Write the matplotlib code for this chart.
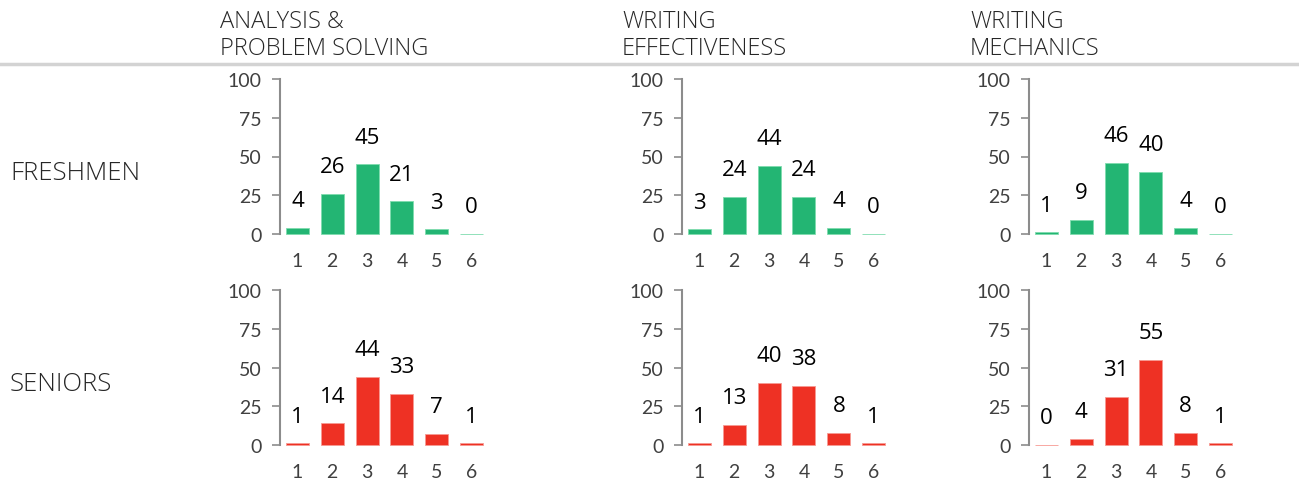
import matplotlib.pyplot as plt

# Data
scores = [1, 2, 3, 4, 5, 6]
skills = ['ANALYSIS &\nPROBLEM SOLVING', 'WRITING\nEFFECTIVENESS', 'WRITING\nMECHANICS']
groups = ['FRESHMEN', 'SENIORS']

freshmen_analysis = [4, 26, 45, 21, 3, 0]
freshmen_effectiveness = [3, 24, 44, 24, 4, 0]
freshmen_mechanics = [1, 9, 46, 40, 4, 0]

seniors_analysis = [1, 14, 44, 33, 7, 1]
seniors_effectiveness = [1, 13, 40, 38, 8, 1]
seniors_mechanics = [0, 4, 31, 55, 8, 1]

values = [
    [freshmen_analysis, freshmen_effectiveness, freshmen_mechanics],
    [seniors_analysis, seniors_effectiveness, seniors_mechanics],
]

bar_colors = ['#23b573', '#ee3124']
edge_colors = ['#7fdcae', '#f79a93']

W, H = 1299, 489
fig = plt.figure(figsize=(W / 100, H / 100), dpi=100)

label_font = dict(family='Open Sans', fontweight='light')

# axes positions in pixels
col_x0 = [280, 682, 1029]
ax_w = 209
row_zero = [235, 446]
ax_h = 155

for r, group in enumerate(groups):
    for c, skill in enumerate(skills):
        left = col_x0[c] / W
        bottom = (H - row_zero[r]) / H
        ax = fig.add_axes([left, bottom, ax_w / W, ax_h / H])
        vals = values[r][c]
        bars = ax.bar(scores, vals, width=0.66, color=bar_colors[r],
                      edgecolor=edge_colors[r], linewidth=0.6)
        for b in bars:
            b.set_clip_on(False)
        for x, v in zip(scores, vals):
            ax.annotate(str(v), (x, v), xytext=(0, 12), textcoords='offset points',
                        ha='center', va='bottom', fontsize=16,
                        family='Open Sans', color='black', annotation_clip=False)
        ax.set_xlim(0.5, 6.5)
        ax.set_ylim(0, 100)
        ax.set_yticks([0, 25, 50, 75, 100])
        ax.set_xticks(scores)
        for s in ['top', 'right', 'bottom']:
            ax.spines[s].set_visible(False)
        ax.spines['left'].set_color('#8c8c8c')
        ax.spines['left'].set_linewidth(1.5)
        ax.tick_params(axis='y', length=6, width=1.2, color='#8c8c8c', pad=7,
                       labelsize=14, labelcolor='#404040')
        ax.tick_params(axis='x', length=0, pad=13, labelsize=14, labelcolor='#404040')
        for lab in ax.get_xticklabels() + ax.get_yticklabels():
            lab.set_family('Lato')
        ax.patch.set_alpha(0)

# Column headers
header_x = [220, 622, 970]
for c, skill in enumerate(skills):
    fig.text(header_x[c] / W, 1 - 10 / H, skill, ha='left', va='top',
             fontsize=17, color='#262626', linespacing=1.15, **label_font)

# Row labels
row_label_y = [174, 385]
for r, group in enumerate(groups):
    fig.text(10 / W, 1 - row_label_y[r] / H, group, ha='left', va='center',
             fontsize=18.5, color='#262626', **label_font)

# Separator line under headers
fig.add_artist(plt.Line2D([0, 1], [1 - 65 / H, 1 - 65 / H], color='#d3d3d3',
                          linewidth=2.5, transform=fig.transFigure))

fig.savefig('out.png', dpi=100)
